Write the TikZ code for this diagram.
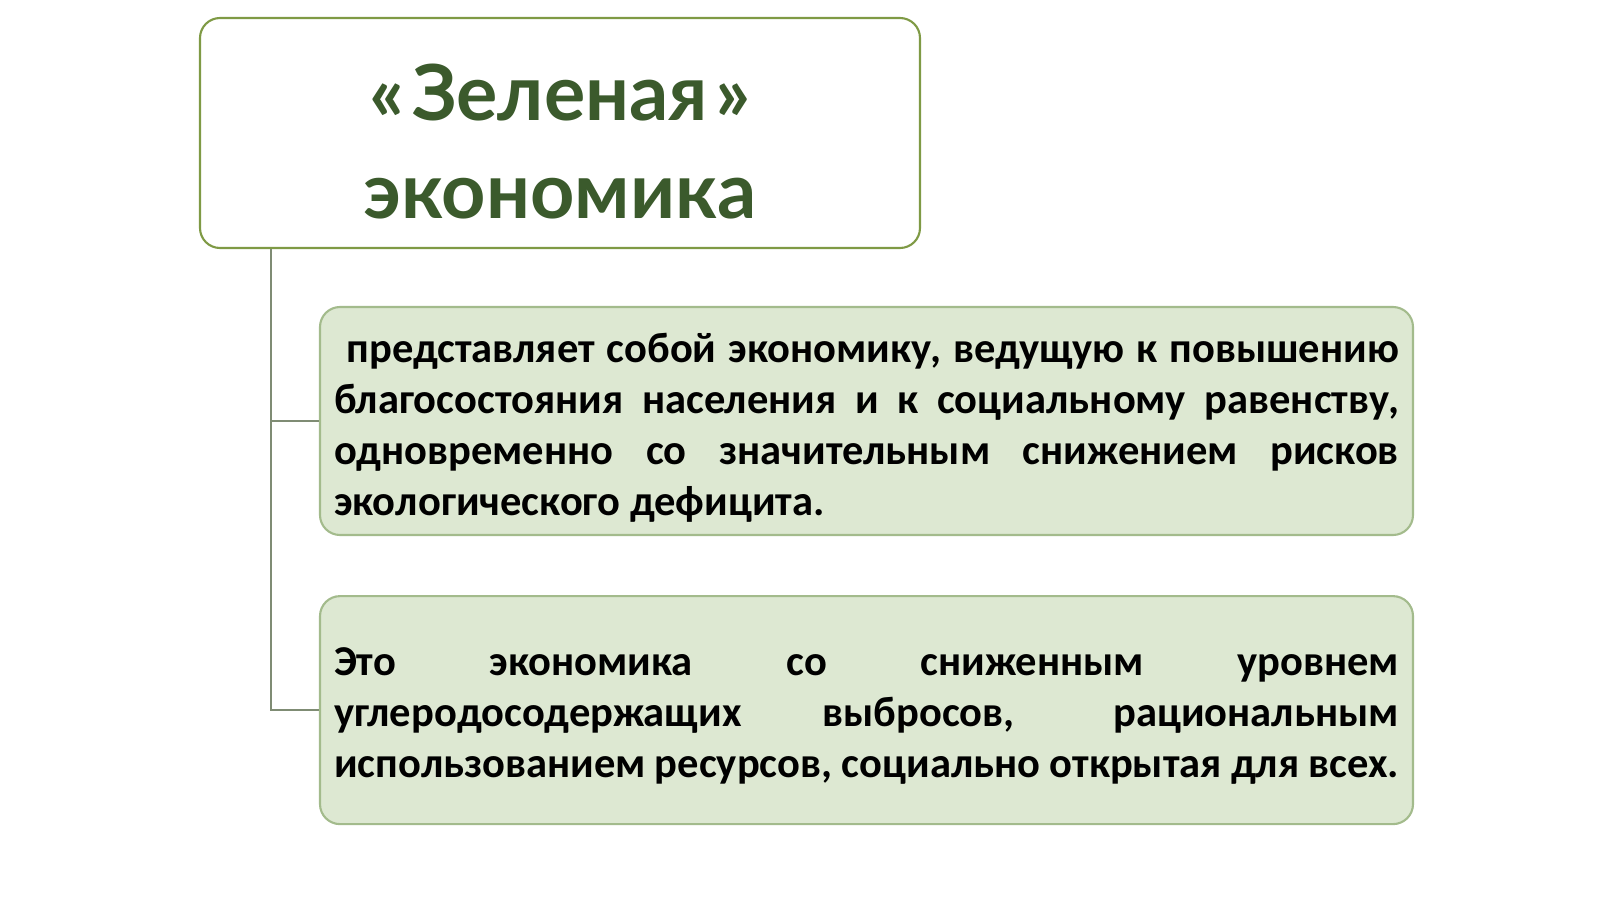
\documentclass[tikz,border=0pt]{standalone}
\usepackage{fontspec}
\setmainfont{Carlito}
\newfontfamily\titlefont{Lato}
\usepackage{xcolor}
\usetikzlibrary{positioning}

\definecolor{titlegreen}{HTML}{3B5A2C}
\definecolor{frameolive}{HTML}{7F9A45}
\definecolor{boxfill}{HTML}{DDE8D2}
\definecolor{boxframe}{HTML}{A3BB8C}
\definecolor{trunkgray}{HTML}{7F8C74}

\tikzset{
  titlebox/.style={draw=frameolive, line width=1.2pt, fill=white, rounded corners=0.4cm,
    minimum width=14.4cm, minimum height=4.6cm, align=center, text=titlegreen,
    font=\titlefont\bfseries\fontsize{44}{56}\selectfont},
  defbox/.style={draw=boxframe, line width=1.2pt, fill=boxfill, rounded corners=0.4cm,
    minimum width=21.86cm, minimum height=4.56cm, text width=21.3cm, inner xsep=0.28cm,
    align=justify, font=\bfseries\fontsize{24.2}{29}\selectfont},
  branch/.style={draw=trunkgray, line width=1pt}
}

\begin{document}
\begin{tikzpicture}

% canvas
\useasboundingbox (0,0) rectangle (32,-17.98);

% title
\node[titlebox] (green) at (11.2,-2.66) {\rule{0pt}{42pt}«\kern0.1em Зеленая\kern0.1em»\\экономика};

% two definitions
\node[defbox] (def1) at (17.33,-8.42) {\rule{0pt}{24pt}\hspace*{0.3em}представляет собой экономику, ведущую к повышению\linebreak благосостояния населения и к социальному равенству,\linebreak одновременно со значительным снижением рисков\linebreak экологического дефицита.};
\node[defbox, below=1.18cm of def1] (def2) {\rule{0pt}{23pt}Это экономика со сниженным уровнем\linebreak углеродосодержащих выбросов, рациональным\linebreak использованием ресурсов, социально открытая для всех.};

% connectors
\coordinate (trunk) at ([xshift=1.44cm]green.south west);
\draw[branch] (trunk) |- (def1.west);
\draw[branch] (trunk) |- (def2.west);

\end{tikzpicture}
\end{document}
